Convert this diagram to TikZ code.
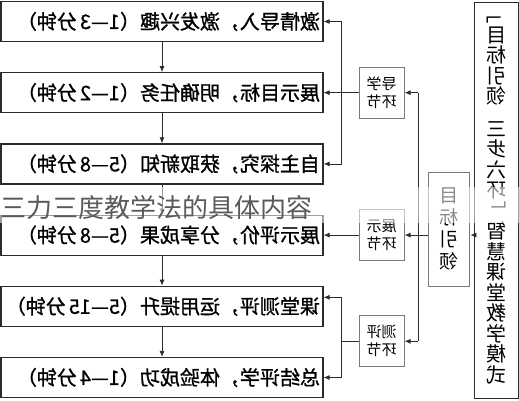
\documentclass[tikz,border=0pt]{standalone}
\usepackage{fontspec}
\usepackage{graphicx}
\usepackage{tikz}
\usetikzlibrary{arrows.meta,positioning,calc}
\newfontfamily\cjk{Noto Sans CJK SC}
\newfontfamily\cjkbf[FakeBold=1]{Noto Sans CJK SC}
\definecolor{framedark}{HTML}{2B2B2B}
\definecolor{linkgray}{HTML}{7A7A7A}
\definecolor{captiongray}{HTML}{5A5A5A}
\newcommand{\flip}[1]{\reflectbox{#1}}
\newcommand{\vstack}[1]{\parbox{2.2em}{\centering #1}}
\newcommand{\stagetext}[1]{\flip{\makebox[316pt][l]{#1}}}
\newcommand{\gap}{\hspace{3pt}}
\tikzstyle{stagebox} = [rectangle, draw=framedark, line width=1.2pt,
    minimum width=322pt, minimum height=40pt, inner sep=0pt, font=\cjkbf\fontsize{20}{20}\selectfont]
\tikzstyle{linkbox} = [rectangle, draw=linkgray, line width=1pt,
    minimum width=45pt, minimum height=51pt, inner sep=0pt, font=\cjk\fontsize{15}{18}\selectfont]
\tikzstyle{guidebox} = [rectangle, draw=linkgray, line width=1pt,
    minimum width=35pt, minimum height=114pt, inner sep=0pt, font=\cjk\fontsize{19}{22}\selectfont]
\tikzstyle{modelbox} = [rectangle, draw=framedark, line width=1pt,
    minimum width=37pt, minimum height=395pt, inner sep=0pt, font=\cjk\fontsize{20}{20.5}\selectfont]
\tikzstyle{arrow} = [-{Latex[length=6pt,width=5pt]}, line width=0.8pt, framedark]
\tikzstyle{caption} = [font=\cjk\fontsize{26}{26}\selectfont, text=captiongray, inner sep=0pt]

\begin{document}
\begin{tikzpicture}[x=1pt, y=1pt, node distance=30pt]
\useasboundingbox (0,0) rectangle (519,400);
% teaching stages
\node[stagebox] (s1) at (162,378.5) {\stagetext{激情导入，激发兴趣（1—3\gap 分钟）}};
\node[stagebox, below=of s1] (s2) {\stagetext{展示目标，明确任务（1—2\gap 分钟）}};
\node[stagebox, below=of s2] (s3) {\stagetext{自主探究，获取新知（5—8\gap 分钟）}};
\node[stagebox, below=of s3] (s4) {\stagetext{展示评价，分享成果（5—8\gap 分钟）}};
\node[stagebox, below=of s4] (s5) {\stagetext{课堂测评，运用提升（5—15\gap 分钟）}};
\node[stagebox, below=of s5] (s6) {\stagetext{总结评学，体验成功（1—4\gap 分钟）}};
% links
\node[linkbox, right=35pt of s2] (daoxue) {\flip{\vstack{导学\\环节}}};
\node[linkbox, right=35pt of s4] (zhanshi) {\flip{\vstack{展示\\环节}}};
\node[linkbox, right=35pt of s5, yshift=-35pt] (ceping) {\flip{\vstack{测评\\环节}}};
\node[guidebox, right=23pt of zhanshi, yshift=6pt] (mubiao) {\flip{\vstack{目\\标\\引\\领}}};
\node[modelbox] (model) at (496.5,199.5) {\flip{\vstack{﹁\\目\\标\\引\\领\\[12pt]三\\步\\六\\环\\﹂\\智\\慧\\课\\堂\\教\\学\\模\\式}}};
% main flow
\draw[arrow] (s1) -- (s2);
\draw[arrow] (s2) -- (s3);
\draw[arrow] (s3) -- (s4);
\draw[arrow] (s4) -- (s5);
\draw[arrow] (s5) -- (s6);
% brackets to the stages
\coordinate (lb) at ($(s2.east)!0.5!(daoxue.west)$);
\draw[arrow] (daoxue.west) -- (s2.east);
\draw[arrow] (lb) |- (s1.east);
\draw[arrow] (lb) |- (s3.east);
\draw[arrow] (zhanshi.west) -- (s4.east);
\coordinate (rb) at (ceping.west -| lb);
\draw[line width=0.8pt, framedark] (ceping.west) -- (rb);
\draw[arrow] (rb) |- ([yshift=9pt]s5.east);
\draw[arrow] (rb) |- (s6.east);
% guide trunk
\coordinate (tk) at ($(zhanshi.east)!0.58!(mubiao.west |- zhanshi)$);
\draw[arrow] (mubiao.west |- zhanshi) -- (zhanshi.east);
\draw[line width=0.8pt, framedark] (tk |- daoxue) -- (tk |- ceping);
\draw[arrow] (tk |- daoxue) -- (daoxue.east);
\draw[arrow] (tk |- ceping) -- (ceping.east);
\draw[arrow] (model.west |- zhanshi) -- (mubiao.east |- zhanshi);
% caption band
\fill[white, fill opacity=0.55] (0,177) rectangle (519,213);
\node[caption] (title) at (156,192.5) {三力三度教学法的具体内容};
\end{tikzpicture}
\end{document}
